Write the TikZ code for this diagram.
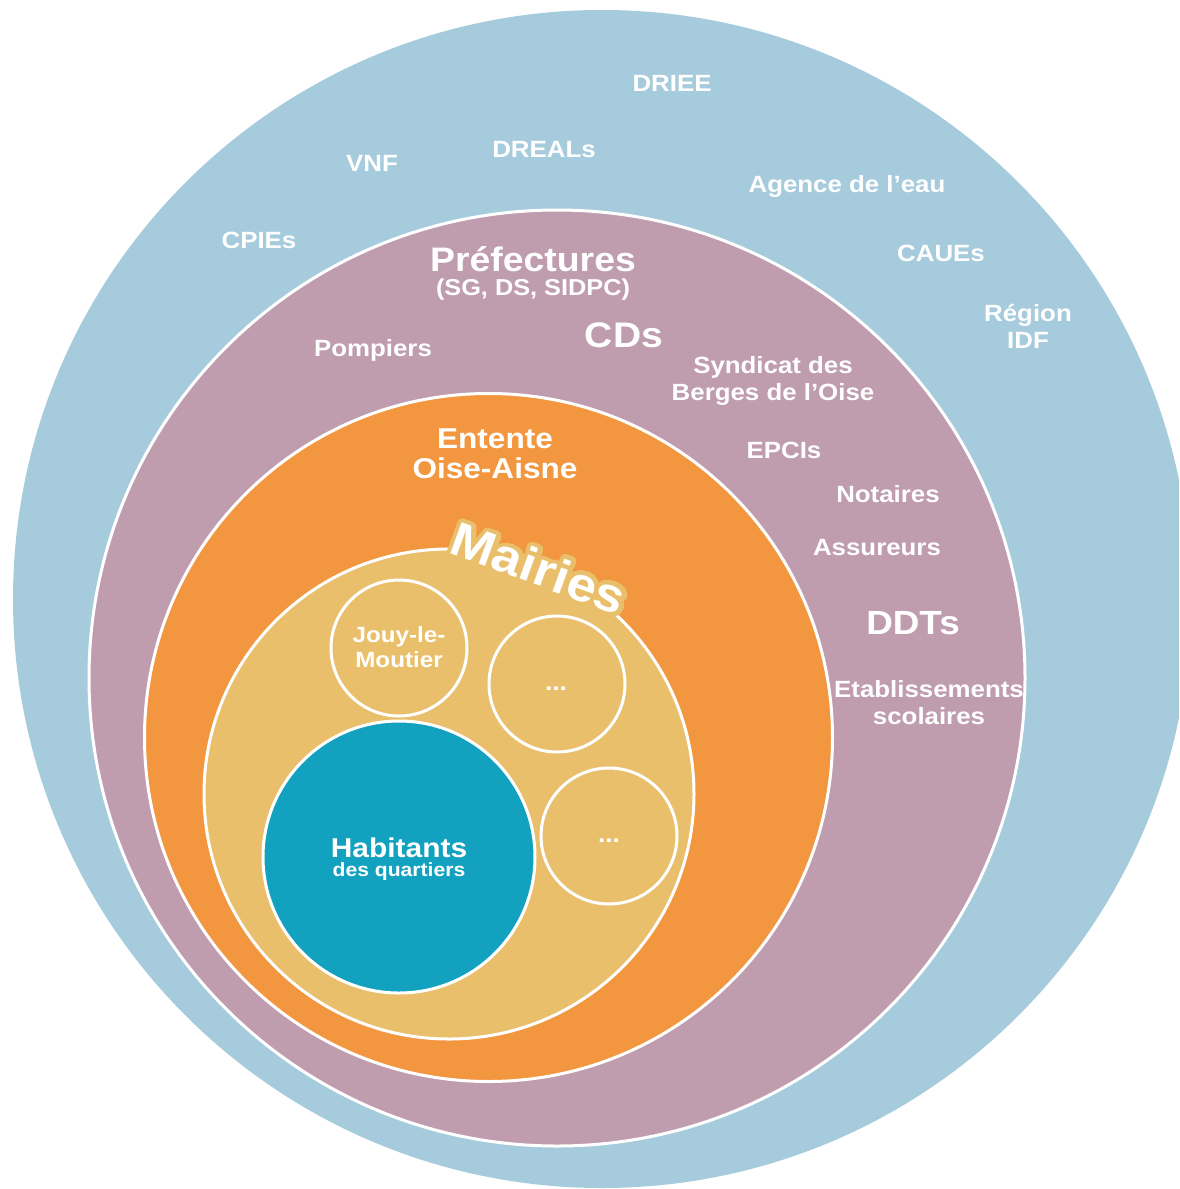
\documentclass[tikz,border=0pt]{standalone}
\usepackage{fontspec}
\usetikzlibrary{calc}
\setmainfont[FakeStretch=1.1]{Liberation Sans}
\definecolor{cblue}{HTML}{A6CBDC}
\definecolor{cpurple}{HTML}{BF9DAE}
\definecolor{corange}{HTML}{F2963F}
\definecolor{ctan}{HTML}{E9BF6B}
\definecolor{cteal}{HTML}{12A1BF}
\newcommand\outlinedtext[1]{\rlap{\special{pdf:literal direct 2 Tr 9.5 w 1 j 0.914 0.749 0.42 rg 0.914 0.749 0.42 RG}#1\special{pdf:literal direct 0 Tr 1 w 1 1 1 rg 1 1 1 RG}}#1}
\tikzset{
  ring/.style={circle, draw=white, line width=3pt, inner sep=0pt},
  lbl/.style={text=white, font=\bfseries\fontsize{23.5}{27}\selectfont, align=center, inner sep=0pt},
  big/.style={text=white, font=\bfseries\fontsize{#1}{#1}\selectfont, align=center, inner sep=0pt},
}
\begin{document}
\begin{tikzpicture}[x=1pt,y=-1pt]
\useasboundingbox (0,0) rectangle (1179,1189);
\clip (0,0) rectangle (1179,1189);
% circles
\node[circle, fill=cblue, inner sep=0pt, minimum size=1178pt] (outer) at (602,599) {};
\node[ring, fill=cpurple, minimum size=936pt] (pref) at (557,678) {};
\node[ring, fill=corange, minimum size=688pt] (entente) at (488.5,737.5) {};
\node[ring, fill=ctan, minimum size=490pt] (mairies) at (449,794) {};
\node[ring, fill=ctan, minimum size=136pt] (jouy) at (399,648) {};
\node[ring, fill=ctan, minimum size=136pt] (autre1) at (557,684) {};
\node[ring, fill=ctan, minimum size=136pt] (autre2) at (609,836) {};
\node[ring, fill=cteal, minimum size=272pt] (hab) at (399,857) {};
% outer ring labels
\node[lbl] (driee) at (672,83) {DRIEE};
\node[lbl] (vnf) at (372,163) {VNF};
\node[lbl] (dreal) at (544,150) {DREALs};
\node[lbl] (agence) at (847,186) {Agence de l’eau};
\node[lbl] (cpie) at (259,240) {CPIEs};
\node[lbl] (caue) at (941,253) {CAUEs};
\node[lbl] (region) at (1028,326) {Région\\IDF};
% purple ring labels
\node[big=34] (prefect) at (533,259) {Préfectures};
\node[big=23] (prefsub) at (533,290) {(SG, DS, SIDPC)};
\node[big=35.5] (cds) at (624,335) {CDs};
\node[lbl] (pomp) at (373,350) {Pompiers};
\node[lbl] (synd) at (773,381) {Syndicat des\\Berges de l’Oise};
\node[lbl] (epci) at (784,450) {EPCIs};
\node[lbl] (not) at (888,494) {Notaires};
\node[lbl] (ass) at (877,548) {Assureurs};
\node[big=33.5] (ddt) at (913,623) {DDTs};
\node[lbl] (etab) at (929,703) {Etablissements\\scolaires};
% orange
\node[text=white, font=\bfseries\fontsize{28.7}{30}\selectfont, align=center, inner sep=0pt] (eoa) at (495,454) {Entente\\Oise-Aisne};
% Mairies with outline
\node[big=48, rotate=-20, anchor=base] (mtxt) at (533,584) {\outlinedtext{Mairies}};
% small circles
\node[text=white, font=\bfseries\fontsize{22}{25}\selectfont, align=center, inner sep=0pt] (jouytxt) at (jouy.center) [yshift=1pt] {Jouy-le-\\Moutier};
\node[big=24] (d1) at (556,689) {...};
\node[big=24] (d2) at (609,841) {...};
\node[big=27.2] (habt) at (399,848) {Habitants};
\node[big=19.2] (habs) at (399,872) {des quartiers};
\end{tikzpicture}
\end{document}
